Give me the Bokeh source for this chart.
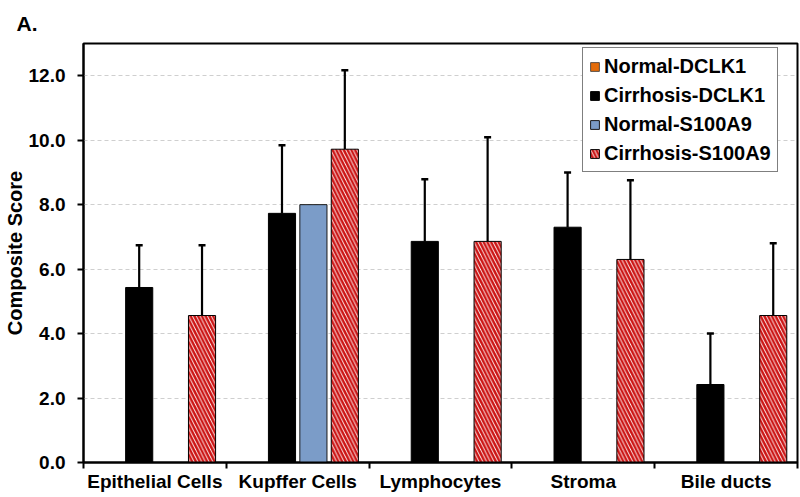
from bokeh.plotting import figure
from bokeh.models import (ColumnDataSource, Whisker, TeeHead, Legend, LegendItem,
                          FixedTicker, Range1d, Title)
from bokeh.embed import file_html
from bokeh.resources import INLINE

categories = ["Epithelial Cells", "Kupffer Cells", "Lymphocytes", "Stroma", "Bile ducts"]
normal_dclk1 = [0, 0, 0, 0, 0]
cirrhosis_dclk1 = [5.43, 7.73, 6.86, 7.3, 2.42]
cirrhosis_dclk1_err = [1.31, 2.11, 1.93, 1.7, 1.58]
normal_s100a9 = [0, 8.0, 0, 0, 0]
cirrhosis_s100a9 = [4.56, 9.72, 6.86, 6.3, 4.56]
cirrhosis_s100a9_err = [2.18, 2.45, 3.23, 2.46, 2.24]
y_ticks = [0, 2, 4, 6, 8, 10, 12]
y_tick_labels = ["0.0", "2.0", "4.0", "6.0", "8.0", "10.0", "12.0"]
series_names = ["Normal-DCLK1", "Cirrhosis-DCLK1", "Normal-S100A9", "Cirrhosis-S100A9"]

FONT = "Liberation Sans"
offsets = [-0.33, -0.11, 0.11, 0.33]
bar_w = 0.19
centers = [i + 0.5 for i in range(len(categories))]

p = figure(width=800, height=497, output_backend="svg", toolbar_location=None,
           x_range=Range1d(0, 5), y_range=Range1d(0, 13),
           min_border_left=82, min_border_right=3, min_border_top=43, min_border_bottom=35)
p.background_fill_color = "white"
p.border_fill_color = "white"
p.outline_line_color = "black"
p.outline_line_width = 2

def xs(k):
    return [c + offsets[k] for c in centers]

src0 = ColumnDataSource(dict(x=xs(0), top=normal_dclk1))
src1 = ColumnDataSource(dict(x=xs(1), top=cirrhosis_dclk1,
                             upper=[v + e for v, e in zip(cirrhosis_dclk1, cirrhosis_dclk1_err)]))
src2 = ColumnDataSource(dict(x=xs(2), top=normal_s100a9))
src3 = ColumnDataSource(dict(x=xs(3), top=cirrhosis_s100a9,
                             upper=[v + e for v, e in zip(cirrhosis_s100a9, cirrhosis_s100a9_err)]))

r0 = p.vbar(x="x", top="top", bottom=0, width=bar_w, source=src0,
            fill_color="#E46C0A", line_color="#333333", line_width=0.8)
r1 = p.vbar(x="x", top="top", bottom=0, width=bar_w, source=src1,
            fill_color="black", line_color="black", line_width=1)
r2 = p.vbar(x="x", top="top", bottom=0, width=bar_w, source=src2,
            fill_color="#7B9CC8", line_color="#1a1a1a", line_width=1)
r3 = p.vbar(x="x", top="top", bottom=0, width=bar_w, source=src3,
            fill_color="white", line_color="black", line_width=1,
            hatch_pattern="left_diagonal_line", hatch_color="#CC1414",
            hatch_weight=2.5, hatch_scale=7.5)

for s in (src1, src3):
    w = Whisker(source=s, base="x", upper="upper", lower="top",
                line_color="black", line_width=2.2,
                upper_head=TeeHead(size=7, line_color="black", line_width=2.5),
                lower_head=None)
    p.add_layout(w)

# axes
xa = p.xaxis[0]
xa.ticker = FixedTicker(ticks=centers, minor_ticks=[0, 1, 2, 3, 4, 5])
xa.major_label_overrides = {c: n for c, n in zip(centers, categories)}
xa.major_tick_out = 0
xa.major_tick_in = 0
xa.minor_tick_out = 6
xa.minor_tick_in = 0
xa.minor_tick_line_color = "black"
xa.minor_tick_line_width = 2
xa.axis_line_width = 2
xa.axis_line_color = "black"
xa.major_label_text_font = FONT
xa.major_label_text_font_style = "bold"
xa.major_label_text_font_size = "19px"
xa.major_label_text_color = "black"
xa.major_label_standoff = 2

ya = p.yaxis[0]
ya.ticker = FixedTicker(ticks=y_ticks, minor_ticks=[])
ya.major_label_overrides = {t: l for t, l in zip(y_ticks, y_tick_labels)}
ya.major_tick_out = 6
ya.major_tick_in = 0
ya.major_tick_line_width = 2
ya.axis_line_width = 2
ya.axis_line_color = "black"
ya.major_label_text_font = FONT
ya.major_label_text_font_style = "bold"
ya.major_label_text_font_size = "19px"
ya.major_label_text_color = "black"
ya.major_label_standoff = 12
ya.axis_label = "Composite Score"
ya.axis_label_text_font = FONT
ya.axis_label_text_font_style = "bold"
ya.axis_label_text_font_size = "20px"
ya.axis_label_text_color = "black"
ya.axis_label_standoff = 0

p.xgrid.grid_line_color = None
p.ygrid.ticker = FixedTicker(ticks=y_ticks[1:])
p.ygrid.grid_line_color = "#cfcfcf"
p.ygrid.grid_line_dash = "4 3"
p.ygrid.grid_line_width = 1

p.title = Title(text="A.", align="left", offset=-67, standoff=18, text_font=FONT,
                text_font_style="bold", text_font_size="21px", text_color="black")

legend = Legend(items=[LegendItem(label=series_names[0], renderers=[r0]),
                       LegendItem(label=series_names[1], renderers=[r1]),
                       LegendItem(label=series_names[2], renderers=[r2]),
                       LegendItem(label=series_names[3], renderers=[r3])],
                location=(499, 290))
legend.label_text_font = FONT
legend.label_text_font_style = "bold"
legend.label_text_font_size = "20px"
legend.label_text_color = "black"
legend.glyph_width = 11
legend.glyph_height = 11
legend.label_height = 24
legend.label_standoff = 4
legend.spacing = 5
legend.padding = 6
legend.margin = 0
legend.border_line_color = "black"
legend.border_line_width = 1.5
legend.background_fill_color = "white"
legend.background_fill_alpha = 1
p.add_layout(legend)

open("out.html", "w").write(file_html(p, INLINE))
